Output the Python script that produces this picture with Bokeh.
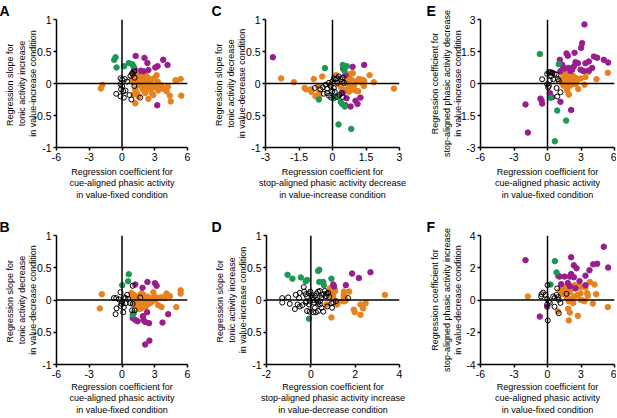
from bokeh.plotting import figure
from bokeh.models import Range1d, FixedTicker, Span, Title
from bokeh.layouts import row, column
from bokeh.embed import file_html
from bokeh.resources import INLINE

# ---------------- data ----------------
# Panel A
A_or_x = [-1.79,-1.94,1.01,1.25,1.52,1.67,1.88,2.06,2.18,2.36,2.57,2.72,2.90,3.17,3.26,3.38,3.56,3.77,3.92,4.08,
          4.38,4.47,4.98,5.37,5.43,1.82,1.97,2.12,2.27,2.42,2.57,2.72,2.87,2.42,1.22,1.37,1.52,1.07,1.22,1.67,
          1.52,1.37,1.91,3.02,3.32,3.62,0.92,1.07,2.12,1.60,2.00,2.30,1.80,2.60,2.20,1.40,2.90,3.50,4.20,1.75,4.90]
A_or_y = [-0.02,-0.08,0.11,0.15,0.14,0.08,0.11,0.15,0.07,0.09,0.03,0.06,0.08,0.13,0.03,-0.02,-0.07,-0.08,-0.09,-0.12,
          -0.19,-0.28,0.04,0.07,-0.19,0.03,-0.02,-0.07,0.01,-0.04,-0.09,-0.15,-0.18,-0.24,-0.09,-0.15,-0.20,-0.17,-0.31,0.06,
          -0.02,0.03,-0.09,-0.04,-0.11,-0.04,0.07,0.01,-0.15,0.05,0.10,0.04,-0.05,-0.03,0.12,0.09,-0.06,-0.02,-0.05,0.12,0.05]
A_pu_x = [1.25,2.06,2.33,3.77,4.17,3.05,3.26,2.42,1.73,1.97,1.16,1.10,3.23]
A_pu_y = [0.43,0.40,0.32,0.37,0.29,0.25,0.27,0.21,0.20,0.19,0.23,0.20,-0.34]
A_gr_x = [-0.59,-0.71,-0.50,0.20,0.62,0.95,1.04]
A_gr_y = [0.41,0.37,0.25,0.27,0.32,0.30,0.27]
A_bk_x = [-0.14,0.02,0.26,0.47,0.77,0.92,1.13,1.16,-0.14,0.02,-0.08,0.11,0.32,-0.53,-0.14,0.17,0.68,0.86,1.13,1.67,0.98]
A_bk_y = [0.08,0.06,0.07,0.03,0.12,0.16,0.19,0.09,-0.01,-0.04,-0.09,-0.12,-0.11,-0.16,-0.20,-0.22,-0.18,-0.25,-0.04,-0.22,0.15]

# Panel C
C_or_x = [-2.30,-1.73,-1.25,-1.18,-0.97,-0.94,-0.84,-0.64,-0.76,-0.61,-0.61,-0.46,-0.09,0.16,0.70,0.81,0.91,0.66,0.58,0.73,
          0.85,1.06,1.18,1.33,1.42,1.25,1.40,1.66,1.85,2.75,0.70,0.81,0.91,1.03,1.15,0.73,0.61,0.31,0.40,0.96]
C_or_y = [0.08,0.02,-0.07,-0.09,-0.09,-0.13,0.07,-0.04,-0.20,-0.21,-0.15,0.11,-0.02,0.13,0.13,0.15,0.16,0.08,0.03,0.03,
          0.06,0.03,0.07,0.06,0.04,0.02,-0.04,0.13,0.02,-0.08,-0.02,-0.07,-0.09,-0.11,-0.12,-0.13,-0.10,-0.02,-0.07,-0.04]
C_pu_x = [-2.67,0.90,1.42,0.48,0.58,0.46,0.63,1.03,1.25,1.12,0.58,0.81]
C_pu_y = [0.41,0.26,0.29,0.23,0.13,-0.15,-0.23,-0.27,-0.22,-0.32,-0.34,-0.36]
C_gr_x = [-0.34,0.46,0.64,0.54,-0.61,0.06,0.13,0.37,0.43,0.55,0.27,0.84]
C_gr_y = [0.24,0.29,0.27,0.20,-0.25,-0.23,-0.21,-0.29,-0.32,-0.36,-0.64,-0.71]
C_bk_x = [-0.43,-0.31,-0.24,-0.16,-0.09,-0.01,0.13,0.21,0.28,0.36,0.46,0.43,0.52,0.21,0.06,-0.24,-0.16,-0.01,0.10,0.21,
          0.31,0.40,0.46,-0.79,-0.54,-0.39,-0.06,0.06]
C_bk_y = [-0.06,-0.02,-0.08,0.01,-0.04,0.03,0.06,0.08,0.11,0.07,0.09,0.03,0.01,0.01,0.08,-0.15,-0.19,-0.12,-0.13,-0.21,
          -0.18,-0.15,-0.21,-0.07,-0.09,-0.16,-0.22,-0.07]

# Panel E
E_or_x = [1.31,1.61,1.85,2.06,2.30,2.51,1.82,2.06,2.36,2.66,2.96,3.10,3.70,3.40,4.39,5.40,1.31,1.46,1.70,2.00,
          2.30,2.75,1.91,3.31,1.16,1.46,2.51,1.76]
E_or_y = [0.50,0.42,0.30,0.24,0.35,0.27,0.12,0.05,0.09,0.15,0.23,0.61,0.55,0.30,0.20,0.50,0.00,-0.11,-0.18,-0.11,
          -0.03,-0.26,-0.52,-0.06,0.20,0.20,-0.03,-0.33]
E_pu_x = [3.31,3.10,3.01,2.42,1.70,1.82,1.10,4.15,4.45,5.04,5.43,3.40,3.70,4.00,2.72,2.51,1.31,1.40,1.61,1.91,
          2.21,2.06,2.36,2.96,3.25,3.70,1.16,0.42,0.42,0.21,-0.54,-0.48,-1.97,-1.76,1.16,2.12,-0.63]
E_pu_y = [2.77,1.89,1.67,1.44,1.41,1.30,1.11,1.26,1.21,1.11,0.98,0.95,1.03,0.73,0.95,1.00,0.88,0.76,0.70,0.73,
          0.65,0.58,0.80,0.65,0.58,0.61,0.58,0.50,-0.64,-0.45,-0.79,-0.94,-0.98,-2.30,-0.86,-1.24,-0.71]
E_gr_x = [-0.69,1.01,0.27,0.87,1.67,0.66]
E_gr_y = [1.38,0.91,-0.67,-1.27,-1.74,-2.71]
E_bk_x = [-0.48,-0.03,0.12,0.27,0.42,0.63,0.81,0.93,1.01,0.21,-0.03,0.12,0.06,0.81,1.16,0.87,0.51,0.33]
E_bk_y = [0.20,0.45,0.53,0.53,0.50,0.45,0.42,0.20,0.12,0.15,-0.03,-0.11,-0.18,-0.21,-0.41,-0.61,0.20,0.35]

# Panel B
B_or_x = [-1.85,-2.03,0.86,1.07,1.28,1.52,1.76,1.97,2.12,2.36,2.57,2.87,3.02,3.32,3.56,3.77,4.08,4.38,5.37,5.37,
          4.98,3.62,3.32,1.22,1.46,1.67,1.88,2.12,2.27,2.42,2.72,3.02,1.37,1.58,1.76,0.98,1.07,2.06,2.57,3.92,1.52]
B_or_y = [0.09,-0.13,0.11,0.08,0.05,0.06,0.10,0.08,0.04,0.05,0.03,0.12,0.05,0.03,0.04,0.04,0.10,0.06,0.15,0.10,
          -0.11,-0.11,-0.08,0.00,-0.05,-0.08,-0.10,-0.11,-0.08,-0.05,-0.03,0.00,-0.10,-0.14,-0.13,0.03,-0.05,-0.03,-0.05,0.03,0.00]
B_pu_x = [2.33,3.02,3.17,1.88,4.23,3.71,0.98,1.22,1.43,1.91,1.97,2.12,2.48,2.30,1.22,2.12,2.51]
B_pu_y = [0.28,0.26,0.22,0.19,-0.22,-0.35,-0.28,-0.31,-0.33,-0.25,-0.31,-0.34,-0.36,-0.19,0.24,-0.69,-0.63]
B_gr_x = [0.62,0.56,0.02,0.98,1.07]
B_gr_y = [0.40,0.29,0.23,-0.23,-0.20]
B_bk_x = [0.98,-0.14,-0.74,-0.53,-0.29,0.17,0.32,0.56,0.77,0.98,0.32,0.02,-0.05,-0.14,0.17,-0.50,-0.59,0.11,0.92,1.16,1.67,0.47]
B_bk_y = [0.22,0.12,0.03,0.03,0.01,0.04,0.03,0.02,-0.05,-0.06,-0.05,-0.03,-0.06,-0.09,-0.11,-0.13,-0.22,-0.19,-0.16,-0.16,0.04,0.08]

# Panel D
D_or_x = [0.86,0.96,1.08,1.49,1.49,1.73,1.49,1.43,1.53,0.90,1.01,1.16,1.19,0.71,0.93,1.94,1.98,2.24,2.24,2.36,
          2.47,3.34,1.49,1.58,1.08,0.83,0.78]
D_or_y = [0.18,0.15,0.16,0.13,0.08,0.13,0.03,-0.02,-0.02,0.09,0.06,-0.02,-0.07,-0.07,-0.27,-0.15,-0.19,-0.07,-0.23,-0.13,
          -0.05,0.08,0.06,0.00,0.13,0.08,0.11]
D_pu_x = [1.86,2.17,2.69,1.58,1.01,1.05]
D_pu_y = [0.41,0.34,0.43,0.23,0.24,0.21]
D_gr_x = [-1.05,-0.83,-0.45,-0.23,-0.17,0.33,0.38,0.38,0.56,0.59,0.93,-0.08]
D_gr_y = [0.39,0.33,0.35,0.29,0.31,0.45,0.47,0.28,0.28,0.23,0.33,-0.29]
D_bk_x = [-1.29,-1.02,-1.29,-0.95,-0.68,-0.50,-0.53,-0.60,-0.72,-0.50,-0.38,-0.32,-0.30,-0.23,-0.17,-0.20,-0.23,-0.08,-0.02,0.03,
          0.08,0.11,0.15,0.18,0.26,0.33,0.41,0.48,0.56,0.63,0.71,0.78,0.83,0.68,0.48,0.26,0.33,0.41,0.48,0.56,
          0.33,0.23,0.11,-0.05,-0.17,0.18,0.41,0.74,0.96,0.93,1.01,1.13,1.68,-0.05,-0.08]
D_bk_y = [0.03,0.04,-0.04,-0.06,0.08,0.11,0.03,-0.07,-0.14,-0.10,-0.08,0.20,0.13,0.09,0.05,-0.02,-0.04,0.10,0.13,0.08,
          0.04,0.00,-0.04,0.06,0.10,0.13,0.14,0.08,0.09,0.14,0.10,0.11,0.05,0.06,0.04,0.00,-0.04,-0.07,-0.12,-0.18,
          -0.17,-0.19,-0.19,-0.18,-0.17,-0.12,-0.02,-0.10,-0.12,-0.05,-0.04,-0.02,0.03,-0.02,-0.07]

# Panel F
F_or_x = [-1.76,1.25,1.46,1.70,1.82,2.00,2.21,2.42,2.66,2.96,3.25,3.40,3.79,4.21,3.55,3.61,4.36,2.96,2.72,2.42,
          2.21,2.06,2.30,1.91,1.46,1.31,1.61,1.76,3.10,4.06,5.40,1.85,2.00,1.91,2.72,0.93,1.16,1.61,3.31,2.96]
F_or_y = [0.22,0.82,0.72,0.86,0.62,0.46,0.72,0.92,0.82,0.82,0.82,0.78,1.11,0.96,0.42,0.26,0.36,0.42,0.32,0.22,
          0.06,0.02,-0.18,-0.08,0.52,0.38,0.32,0.12,-0.02,-0.22,-0.44,-0.54,-0.78,-1.27,-0.98,-0.70,0.62,0.52,-0.08,0.02]
F_pu_x = [-1.97,5.04,2.12,2.36,2.60,4.45,4.09,5.43,3.76,3.40,2.87,2.36,2.12,2.00,1.52,1.07,0.96,1.82,1.22,2.51,3.40,2.00,-0.69,-0.03]
F_pu_y = [2.47,3.30,2.65,2.15,1.97,2.25,2.21,2.01,1.85,1.51,1.17,1.41,1.61,1.45,1.45,1.45,1.51,1.05,0.98,0.72,0.92,0.86,-1.03,-0.42]
F_gr_x = [0.66,0.81,0.27]
F_gr_y = [2.41,1.71,0.96]
F_bk_x = [0.00,-0.39,-0.54,-0.18,-0.57,-0.03,0.12,0.21,-0.03,0.03,0.51,0.63,0.81,0.93,1.01,1.16,0.63,1.01,0.87,1.70]
F_bk_y = [0.92,0.46,0.36,0.32,0.22,0.06,-0.08,-0.18,-0.28,-1.27,0.22,0.12,0.32,0.18,0.02,-0.18,-0.42,-0.82,0.72,0.38]

# ticks
ticks_x6 = [-6, -3, 0, 3, 6]
labels_x6 = ["-6", "-3", "0", "3", "6"]
ticks_x3 = [-3, -1.5, 0, 1.5, 3]
labels_x3 = ["-3", "-1.5", "0", "1.5", "3"]
ticks_x24 = [-2, 0, 2, 4]
labels_x24 = ["-2", "0", "2", "4"]
ticks_y1 = [-1, -0.5, 0, 0.5, 1]
labels_y1 = ["-1", "-0.5", "0", "0.5", "1"]
ticks_y3 = [-3, -1.5, 0, 1.5, 3]
labels_y3 = ["-3", "-1.5", "0", "1.5", "3"]
ticks_y4 = [-4, -2, 0, 2, 4]
labels_y4 = ["-4", "-2", "0", "2", "4"]

ORANGE = "#E8821E"
PURPLE = "#9A1D8D"
GREEN = "#1C9A55"
FONT = "Liberation Sans"


def panel(letter, w, h, bl, br, bt, bb, xr, yr, xt, xl, yt, yl, xtitle, ytitle,
          xstand, ystand, letter_dx, orx, ory, pux, puy, grx, gry, bkx, bky):
    p = figure(width=w, height=h, x_range=Range1d(*xr), y_range=Range1d(*yr),
               output_backend="svg", toolbar_location=None,
               min_border_left=bl, min_border_right=br, min_border_top=bt, min_border_bottom=bb)
    p.outline_line_color = None
    p.xgrid.visible = False
    p.ygrid.visible = False
    p.background_fill_color = "white"
    p.border_fill_color = "white"
    for ax, t, l, title, st in ((p.xaxis[0], xt, xl, xtitle, xstand), (p.yaxis[0], yt, yl, ytitle, ystand)):
        ax.ticker = FixedTicker(ticks=t)
        ax.major_label_overrides = {tv: lv for tv, lv in zip(t, l)}
        ax.axis_line_width = 1.5
        ax.axis_line_color = "black"
        ax.major_tick_line_width = 1.5
        ax.major_tick_out = 3
        ax.major_tick_in = 0
        ax.minor_tick_out = 0
        ax.minor_tick_in = 0
        ax.major_label_text_font = FONT
        ax.major_label_text_font_size = "10.5px"
        ax.major_label_text_color = "black"
        ax.major_label_standoff = 2
        ax.axis_label = title
        ax.axis_label_text_font = FONT
        ax.axis_label_text_font_size = "9px"
        ax.axis_label_text_font_style = "normal"
        ax.axis_label_text_color = "black"
        ax.axis_label_text_line_height = 1.15
        ax.axis_label_standoff = st
    p.add_layout(Span(location=0, dimension="height", line_color="black", line_width=1.5))
    p.add_layout(Span(location=0, dimension="width", line_color="black", line_width=1.5))
    p.scatter(orx, ory, size=5.5, fill_color=ORANGE, line_color=ORANGE)
    p.scatter(pux, puy, size=5.5, fill_color=PURPLE, line_color=PURPLE)
    p.scatter(grx, gry, size=5.5, fill_color=GREEN, line_color=GREEN)
    p.scatter(bkx, bky, size=5, fill_color=None, line_color="black", line_width=1)
    p.add_layout(Title(text=letter, align="left", offset=letter_dx, standoff=1,
                       text_font=FONT, text_font_size="14px", text_font_style="bold",
                       text_color="black"), "above")
    return p


ty_inc = "Regression slope  for\ntonic activity increase\nin value-increase condition"
ty_dec = "Regression slope  for\ntonic activity decrease\nin value-decrease condition"
tx_cue = "Regression coefficient for\ncue-aligned phasic activity\nin value-fixed condition"
t_stop_dec = "Regression coefficient for\nstop-aligned phasic activity decrease\nin value-increase condition"
t_stop_inc = "Regression coefficient for\nstop-aligned phasic activity increase\nin value-decrease condition"

pA = panel("A", 205, 204, 56, 18, 16, 57, (-6, 6), (-1, 1), ticks_x6, labels_x6, ticks_y1, labels_y1,
           tx_cue, ty_inc, 3, -8, -57,
           A_or_x, A_or_y, A_pu_x, A_pu_y, A_gr_x, A_gr_y, A_bk_x, A_bk_y)
pC = panel("C", 207, 204, 60, 13, 16, 57, (-3, 3), (-1, 1), ticks_x3, labels_x3, ticks_y1, labels_y1,
           t_stop_dec, ty_dec, 3, -8, -54,
           C_or_x, C_or_y, C_pu_x, C_pu_y, C_gr_x, C_gr_y, C_bk_x, C_bk_y)
pE = panel("E", 204, 204, 68, 2, 16, 57, (-6, 6), (-3, 3), ticks_x6, labels_x6, ticks_y3, labels_y3,
           tx_cue, t_stop_dec, 3, -9, -54,
           E_or_x, E_or_y, E_pu_x, E_pu_y, E_gr_x, E_gr_y, E_bk_x, E_bk_y)
pB = panel("B", 205, 213, 56, 18, 31, 51, (-6, 6), (-1, 1), ticks_x6, labels_x6, ticks_y1, labels_y1,
           tx_cue, ty_dec, 1, -8, -57,
           B_or_x, B_or_y, B_pu_x, B_pu_y, B_gr_x, B_gr_y, B_bk_x, B_bk_y)
pD = panel("D", 207, 213, 61, 13, 31, 51, (-2, 4), (-1, 1), ticks_x24, labels_x24, ticks_y1, labels_y1,
           t_stop_inc, ty_inc, 1, -8, -55,
           D_or_x, D_or_y, D_pu_x, D_pu_y, D_gr_x, D_gr_y, D_bk_x, D_bk_y)
pF = panel("F", 204, 213, 68, 2, 31, 51, (-6, 6), (-4, 4), ticks_x6, labels_x6, ticks_y4, labels_y4,
           tx_cue, t_stop_inc, 1, 0, -54,
           F_or_x, F_or_y, F_pu_x, F_pu_y, F_gr_x, F_gr_y, F_bk_x, F_bk_y)

layout = column(row(pA, pC, pE), row(pB, pD, pF))
open("out.html", "w").write(file_html(layout, INLINE))
